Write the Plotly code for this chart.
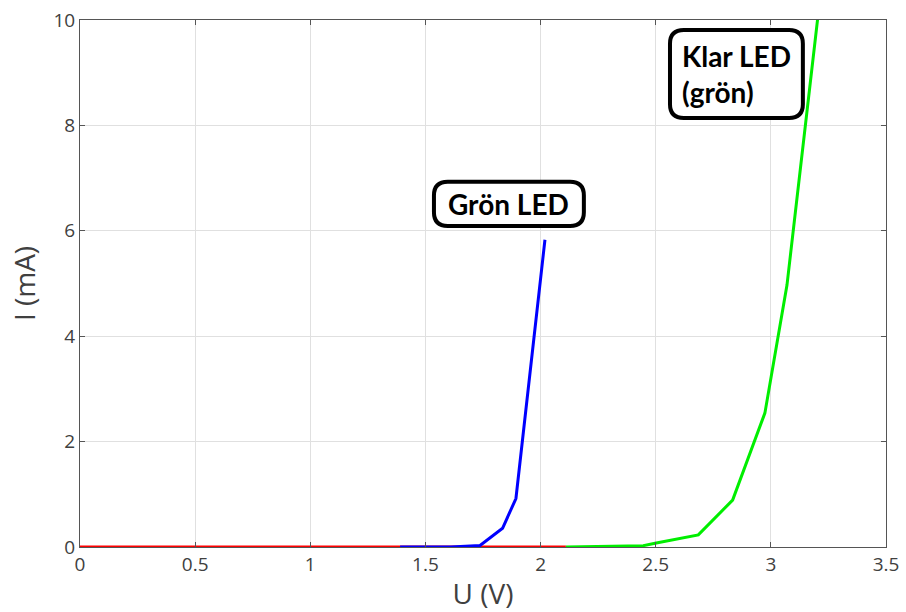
import plotly.graph_objects as go

# Data
red_u = [0.0, 0.41, 2.11]
red_i = [0.0, 0.0, 0.0]

blue_u = [1.39, 1.61, 1.737, 1.835, 1.893, 2.019]
blue_i = [0.0, 0.0, 0.03, 0.355, 0.92, 5.83]

green_u = [2.11, 2.446, 2.497, 2.685, 2.834, 2.974, 3.07, 3.152, 3.205, 3.25]
green_i = [0.0, 0.025, 0.07, 0.23, 0.89, 2.54, 4.97, 8.1, 10.0, 11.8]

labels = ["Grön LED", "Klar LED<br>(grön)"]
label_boxes = [(1.537, 2.188, 6.09, 6.93), (2.562, 3.139, 8.14, 9.81)]

fig = go.Figure()
fig.add_trace(go.Scatter(x=red_u, y=red_i, mode="lines", line=dict(color="#ff0000", width=3), showlegend=False))
fig.add_trace(go.Scatter(x=blue_u, y=blue_i, mode="lines", line=dict(color="#0000ff", width=3), showlegend=False))
fig.add_trace(go.Scatter(x=green_u, y=green_i, mode="lines", line=dict(color="#00ee00", width=3), showlegend=False))

def rounded(x0, x1, y0, y1, rx, ry):
    return (f"M {x0+rx},{y0} L {x1-rx},{y0} Q {x1},{y0} {x1},{y0+ry} "
            f"L {x1},{y1-ry} Q {x1},{y1} {x1-rx},{y1} L {x0+rx},{y1} "
            f"Q {x0},{y1} {x0},{y1-ry} L {x0},{y0+ry} Q {x0},{y0} {x0+rx},{y0} Z")

for (x0, x1, y0, y1), txt in zip(label_boxes, labels):
    fig.add_shape(type="path", path=rounded(x0, x1, y0, y1, 0.06, 0.26),
                  xref="x", yref="y", line=dict(color="black", width=4), fillcolor="white", layer="above")
    fig.add_annotation(x=(x0 + x1) / 2, y=(y0 + y1) / 2, text=txt, showarrow=False,
                       xref="x", yref="y", align="left",
                       font=dict(family="Lato", size=28, color="black", weight="bold"))

axis_common = dict(showline=True, linecolor="#555555", linewidth=1, mirror="ticks",
                   ticks="inside", ticklen=5, tickcolor="#555555", automargin=False,
                   showgrid=True, gridcolor="#e0e0e0", gridwidth=1, zeroline=False,
                   tickfont=dict(family="Open Sans", size=19, color="#404040"))

fig.update_xaxes(range=[0, 3.5], dtick=0.5, title=dict(text="U (V)", font=dict(family="Open Sans", size=28, color="#404040"), standoff=10), **axis_common)
fig.update_yaxes(range=[0, 10], dtick=2, title=dict(text="I (mA)", font=dict(family="Open Sans", size=28, color="#404040"), standoff=9), **axis_common)

fig.update_layout(width=906, height=612, margin=dict(l=80, r=20, t=20, b=65),
                  plot_bgcolor="white", paper_bgcolor="white")
fig.write_html("out.html")
